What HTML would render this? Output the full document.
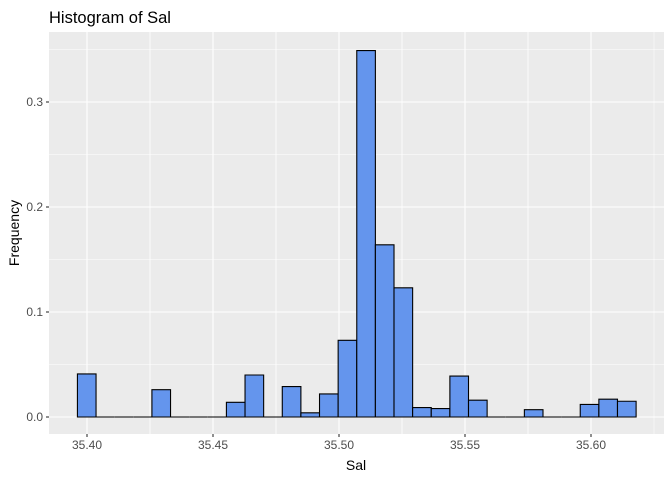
<!DOCTYPE html>
<html><head><meta charset="utf-8"><style>
body{margin:0;background:#fff;font-family:"Liberation Sans",Arial,sans-serif}
svg text{font-family:"Liberation Sans",Arial,sans-serif}
</style></head><body>
<svg id="chart" width="672" height="480" viewBox="0 0 672 480" xmlns="http://www.w3.org/2000/svg">
<rect width="672" height="480" fill="#fff"/>
<text x="49" y="23" font-size="16.5" fill="#000">Histogram of Sal</text>
<rect x="49" y="32" width="615" height="402" fill="#ebebeb"/>
<g id="grid"></g><g id="bars"></g><g id="axes"></g>
<text x="356" y="470" font-size="14" text-anchor="middle" fill="#000">Sal</text>
<text transform="translate(19,233) rotate(-90)" font-size="14" text-anchor="middle" fill="#000">Frequency</text>
</svg>
<script>
const binStart = 35.3962;
const binWidth = 0.00739;
const freqs = [0.041,0,0,0,0.026,0,0,0,0.014,0.040,0,0.029,0.004,0.022,0.073,0.349,0.164,0.123,0.009,0.008,0.039,0.016,0,0,0.007,0,0,0.012,0.017,0.015];
const xTicks = [35.40,35.45,35.50,35.55,35.60];
const xTickLabels = ["35.40","35.45","35.50","35.55","35.60"];
const yTicks = [0,0.1,0.2,0.3];
const yTickLabels = ["0.0","0.1","0.2","0.3"];
const L=49,R=664,T=32,B=434;
function xs(v){return 87+(v-35.40)*2520;}
function ys(v){return 417-v*1050;}
const NS="http://www.w3.org/2000/svg";
function mk(p,t,a){const e=document.createElementNS(NS,t);for(const k in a)e.setAttribute(k,a[k]);p.appendChild(e);return e;}
const g=document.getElementById('grid'),b=document.getElementById('bars'),ax=document.getElementById('axes');
for(let i=0;i<xTicks.length;i++){
  for(const m of [xTicks[i]-0.025, xTicks[i]+0.025]){
    const x=xs(m); if(x<L||x>R) continue;
    const l=mk(g,'line',{x1:x,x2:x,y1:T,y2:B,stroke:'#fff','stroke-width':0.55});
    
    
  }
}
for(let i=0;i<yTicks.length;i++){
  const y=ys(yTicks[i]+0.05);
  const l=mk(g,'line',{x1:L,x2:R,y1:y,y2:y,stroke:'#fff','stroke-width':0.55});
  
  
}
xTicks.forEach((v,i)=>{
  const x=xs(v);
  const l=mk(g,'line',{x1:x,x2:x,y1:T,y2:B,stroke:'#fff','stroke-width':1.1});
  
  
  const t=mk(ax,'line',{x1:x,x2:x,y1:B,y2:B+3,stroke:'#333','stroke-width':1.1});
  
  
  const tx=mk(ax,'text',{x:x,y:B+15,'font-size':12,'text-anchor':'middle',fill:'#4d4d4d'});
  tx.textContent=xTickLabels[i];
  
  
});
yTicks.forEach((v,i)=>{
  const y=ys(v);
  const l=mk(g,'line',{x1:L,x2:R,y1:y,y2:y,stroke:'#fff','stroke-width':1.1});
  
  
  const t=mk(ax,'line',{x1:L-3,x2:L,y1:y,y2:y,stroke:'#333','stroke-width':1.1});
  
  
  const tx=mk(ax,'text',{x:L-6,y:y+4,'font-size':12,'text-anchor':'end',fill:'#4d4d4d'});
  tx.textContent=yTickLabels[i];
  
  
});
freqs.forEach((f,i)=>{
  const x0=xs(binStart+i*binWidth),x1=xs(binStart+(i+1)*binWidth);
  const y=ys(f),y0=ys(0);
  const r=mk(b,'path',{d:`M${x0},${y0}L${x0},${y}L${x1},${y}L${x1},${y0}Z`,fill:'#6495ed',stroke:'#000','stroke-width':1.1});
  
  
});
</script>
</body></html>
